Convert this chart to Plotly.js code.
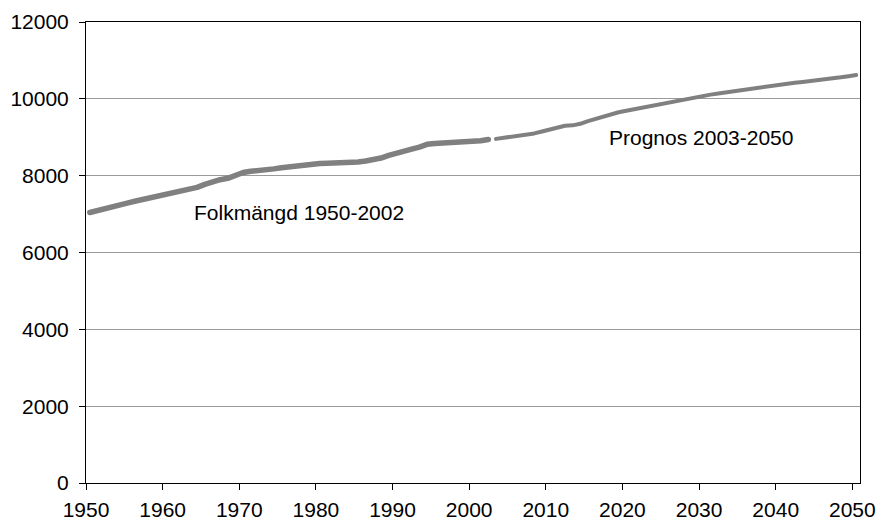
<!DOCTYPE html>
<html>
<head>
<meta charset="utf-8">
<script src="https://cdn.plot.ly/plotly-3.0.1.min.js"></script>
<style>
html,body{margin:0;padding:0;background:#fff;}
#chart{width:881px;height:522px;}
#chart .js-line{stroke-linecap:round;stroke-linejoin:round;}
</style>
</head>
<body>
<div id="chart"></div>
<script>
const histYears = [1950,1951,1952,1953,1954,1955,1956,1957,1958,1959,1960,1961,1962,1963,1964,1965,1966,1967,1968,1969,1970,1971,1972,1973,1974,1975,1976,1977,1978,1979,1980,1981,1982,1983,1984,1985,1986,1987,1988,1989,1990,1991,1992,1993,1994,1995,1996,1997,1998,1999,2000,2001,2002];
const histValues = [7042,7099,7151,7192,7235,7290,7341,7385,7436,7471,7498,7542,7581,7628,7695,7773,7844,7894,7931,8005,8081,8115,8129,8145,8177,8208,8236,8255,8276,8294,8318,8324,8328,8329,8343,8358,8382,8414,8459,8527,8591,8644,8692,8745,8816,8837,8844,8848,8854,8861,8883,8909,8941];
const progYears = [2003,2004,2005,2006,2007,2008,2009,2010,2011,2012,2013,2014,2015,2016,2017,2018,2019,2020,2021,2022,2023,2024,2025,2026,2027,2028,2029,2030,2031,2032,2033,2034,2035,2036,2037,2038,2039,2040,2041,2042,2043,2044,2045,2046,2047,2048,2049,2050];
const progValues = [8958,8985,9015,9050,9085,9100,9150,9200,9250,9300,9310,9350,9420,9480,9550,9600,9650,9690,9730,9770,9810,9850,9890,9930,9960,10000,10040,10080,10110,10140,10170,10200,10230,10260,10290,10310,10340,10370,10390,10420,10440,10460,10480,10510,10530,10560,10590,10620];
const histLabel = "Folkmängd 1950-2002";
const progLabel = "Prognos 2003-2050";
const xTicks = [1950,1960,1970,1980,1990,2000,2010,2020,2030,2040,2050];
const yTicks = [0,2000,4000,6000,8000,10000,12000];

const font = {family: "Liberation Sans, Arial, sans-serif", size: 21, color: "#000"};

const data = [
  {x: histYears, y: histValues, type: "scatter", mode: "lines", name: histLabel,
   line: {color: "#808080", width: 5.5}},
  {x: progYears, y: progValues, type: "scatter", mode: "lines", name: progLabel,
   line: {color: "#808080", width: 4}}
];

// Category-style axis: each year occupies one slot, tick marks at slot edges
const layout = {
  width: 881, height: 522,
  margin: {l: 86, r: 21, t: 22, b: 39},
  paper_bgcolor: "#fff", plot_bgcolor: "#fff",
  showlegend: false,
  font: font,
  xaxis: {
    range: [xTicks[0] - 0.5, xTicks[xTicks.length - 1] + 0.5],
    tickvals: xTicks.map(v => v - 0.5), ticktext: xTicks.map(String),
    ticks: "outside", ticklen: 6, tickcolor: "#000", tickwidth: 1,
    showline: true, linecolor: "#000", linewidth: 1, mirror: true,
    showgrid: false, zeroline: false, tickfont: font, ticklabelstandoff: 2
  },
  yaxis: {
    range: [0, 12000], tickvals: yTicks, ticktext: yTicks.map(String),
    ticks: "outside", ticklen: 6, tickcolor: "#000", tickwidth: 1,
    showline: true, linecolor: "#000", linewidth: 1, mirror: true,
    showgrid: true, gridcolor: "#9a9a9a", gridwidth: 1, zeroline: false,
    tickfont: font, ticklabelstandoff: 6
  },
  annotations: [
    {x: 1963.3, y: 7030, xref: "x", yref: "y", text: histLabel, showarrow: false,
     xanchor: "left", yanchor: "middle", font: font},
    {x: 2017.5, y: 8985, xref: "x", yref: "y", text: progLabel, showarrow: false,
     xanchor: "left", yanchor: "middle", font: font}
  ]
};

Plotly.newPlot("chart", data, layout, {displayModeBar: false, staticPlot: true});
</script>
</body>
</html>
